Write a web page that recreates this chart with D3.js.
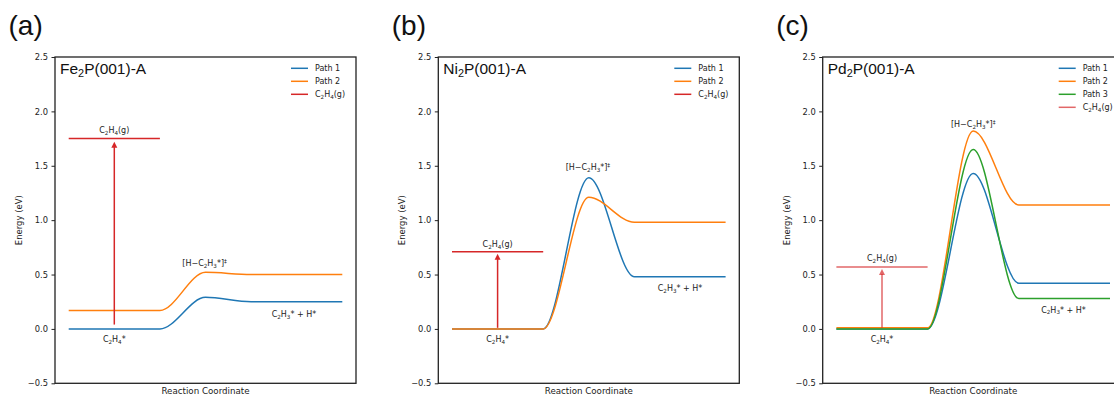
<!DOCTYPE html>
<html>
<head>
<meta charset="utf-8">
<script src="https://cdn.jsdelivr.net/npm/d3@7"></script>
<style>
  body { margin: 0; background: #fff; }
  svg { display: block; }
</style>
</head>
<body>
<div id="chart"></div>
<script>
// values
const panelLetters = ["(a)", "(b)", "(c)"];
const surfaceNames = ["Fe_2P(001)-A", "Ni_2P(001)-A", "Pd_2P(001)-A"];
const pathNames = ["Path 1", "Path 2", "Path 3"];
const pathColors = ["#1f77b4", "#ff7f0e", "#2ca02c"];
const gasName = "C_2H_4(g)";

// reaction coordinate of each state: start, end of initial plateau, TS, start of final plateau, end
const stageX = [0, 1, 1.5, 2, 3];

// [initial, transition state, final] energies in eV, per path
const energiesA = [[0.00, 0.29, 0.25], [0.17, 0.52, 0.50]];
const energiesB = [[0.00, 1.39, 0.48], [0.00, 1.21, 0.98]];
const energiesC = [[0.00, 1.43, 0.42], [0.01, 1.82, 1.14], [0.00, 1.65, 0.28]];
const energies = [energiesA, energiesB, energiesC];

const gasLevels = [1.75, 0.71, 0.57];
const gasSpan = [0, 1];
const arrowX = [0.5, 0.5, 0.5];
const arrowFrom = [0.04, 0.01, 0.01];
const arrowTo = [1.72, 0.69, 0.55];
const gasAlpha = [1, 1, 0.7];

// label anchors (reaction coordinate, energy)
const gasLabelPos = [[0.5, 1.80], [0.5, 0.755], [0.5, 0.62]];
const adsLabelPos = [[0.5, -0.12], [0.5, -0.12], [0.5, -0.12]];
const tsLabelPos = [[1.49, 0.58], [1.49, 1.46], [1.5, 1.857]];
const prodLabelPos = [[2.47, 0.11], [2.5, 0.345], [2.49, 0.15]];

const yTicks = [-0.5, 0.0, 0.5, 1.0, 1.5, 2.0, 2.5];

const W = 1114, H = 395;
const panelLeft = [55, 438.3, 822.7];
const plotW = 301, plotTop = 57, plotBottom = 383.3;

const svg = d3.select("#chart").append("svg")
  .attr("width", W).attr("height", H);

const tickFont = "'DejaVu Sans', sans-serif";
const titleFont = "'Liberation Sans', Arial, sans-serif";

// write "C_2H_4" style text with sub/superscripts as tspans
function richText(sel, str, size) {
  const re = /([_^])(.)/g;
  let last = 0, m;
  const parts = [];
  while ((m = re.exec(str)) !== null) {
    if (m.index > last) parts.push({t: str.slice(last, m.index), k: ""});
    parts.push({t: m[2], k: m[1]});
    last = re.lastIndex;
  }
  if (last < str.length) parts.push({t: str.slice(last), k: ""});
  let shift = 0;
  parts.forEach(p => {
    let target = p.k === "_" ? size * 0.22 : p.k === "^" ? -size * 0.35 : 0;
    sel.append("tspan")
      .attr("dy", target - shift)
      .attr("font-size", p.k ? size * 0.7 : size)
      .text(p.t);
    shift = target;
  });
}

const y = d3.scaleLinear().domain([-0.5, 2.5]).range([plotBottom, plotTop]);

panelLetters.forEach((letter, i) => {
  const left = panelLeft[i];
  const x = d3.scaleLinear().domain([0, 3]).range([left + 13.7, left + plotW - 13.7]);
  const g = svg.append("g");

  // paths
  energies[i].forEach((e, j) => {
    const pts = [[stageX[0], e[0]], [stageX[1], e[0]], [stageX[2], e[1]], [stageX[3], e[2]], [stageX[4], e[2]]];
    g.append("path")
      .attr("d", d3.line().x(d => x(d[0])).y(d => y(d[1])).curve(d3.curveMonotoneX)(pts))
      .attr("fill", "none")
      .attr("stroke", pathColors[j])
      .attr("stroke-width", 1.5);
  });

  // gas-phase level + arrow
  const red = "#d62728";
  g.append("line")
    .attr("x1", x(gasSpan[0])).attr("x2", x(gasSpan[1]))
    .attr("y1", y(gasLevels[i])).attr("y2", y(gasLevels[i]))
    .attr("stroke", red).attr("stroke-opacity", gasAlpha[i]).attr("stroke-width", 1.5);
  const ax = x(arrowX[i]), ay0 = y(arrowFrom[i]), ay1 = y(arrowTo[i]);
  g.append("line")
    .attr("x1", ax).attr("x2", ax).attr("y1", ay0).attr("y2", ay1 + 5)
    .attr("stroke", red).attr("stroke-opacity", gasAlpha[i]).attr("stroke-width", 1.5);
  g.append("path")
    .attr("d", `M${ax},${ay1} L${ax - 3},${ay1 + 6} L${ax + 3},${ay1 + 6} Z`)
    .attr("fill", red).attr("fill-opacity", gasAlpha[i]);

  // state labels
  const labels = [
    [gasLabelPos[i], gasName],
    [adsLabelPos[i], "C_2H_4*"],
    [tsLabelPos[i], "[H\u2212C_2H_3*]^\u2021"],
    [prodLabelPos[i], "C_2H_3* + H*"]
  ];
  labels.forEach(([p, s]) => {
    const t = g.append("text")
      .attr("x", x(p[0])).attr("y", y(p[1]))
      .attr("text-anchor", "middle")
      .attr("font-family", tickFont).attr("font-size", 8)
      .attr("fill", "#222");
    richText(t, s, 8);
  });

  // y axis
  const axis = g.append("g")
    .attr("transform", `translate(${left},0)`)
    .call(d3.axisLeft(y).tickValues(yTicks).tickFormat(d3.format(".1f")).tickSize(3.5).tickPadding(3.5));
  axis.select(".domain").remove();
  axis.selectAll("line").attr("stroke", "#222");
  axis.selectAll("text").attr("font-family", tickFont).attr("font-size", 8.3).attr("fill", "#222");

  // frame
  g.append("rect")
    .attr("x", left).attr("y", plotTop)
    .attr("width", plotW).attr("height", plotBottom - plotTop)
    .attr("fill", "none").attr("stroke", "#222").attr("stroke-width", 1.3);

  // axis titles
  g.append("text")
    .attr("transform", `translate(${left - 33},${(plotTop + plotBottom) / 2}) rotate(-90)`)
    .attr("text-anchor", "middle")
    .attr("font-family", tickFont).attr("font-size", 8.5).attr("fill", "#222")
    .text("Energy (eV)");
  g.append("text")
    .attr("x", left + plotW / 2).attr("y", plotBottom + 10.2)
    .attr("text-anchor", "middle")
    .attr("font-family", tickFont).attr("font-size", 8.7).attr("fill", "#222")
    .text("Reaction Coordinate");

  // surface name
  const tt = g.append("text")
    .attr("x", left + 5).attr("y", 74)
    .attr("font-family", titleFont).attr("font-size", 15.5).attr("fill", "#111");
  richText(tt, surfaceNames[i], 15.5);

  // legend
  const items = energies[i].map((e, j) => ({name: pathNames[j], color: pathColors[j], a: 1}))
    .concat([{name: gasName, color: red, a: gasAlpha[i]}]);
  items.forEach((it, k) => {
    const ly = 68.3 + k * 13;
    const right = left + plotW;
    g.append("line")
      .attr("x1", right - 65).attr("x2", right - 48)
      .attr("y1", ly).attr("y2", ly)
      .attr("stroke", it.color).attr("stroke-opacity", it.a).attr("stroke-width", 1.5);
    const lt = g.append("text")
      .attr("x", right - 41).attr("y", ly + 3)
      .attr("font-family", tickFont).attr("font-size", 8).attr("fill", "#222");
    richText(lt, it.name, 8);
  });

  // panel letter
  svg.append("text")
    .attr("x", left - 46.5).attr("y", 35)
    .attr("font-family", titleFont).attr("font-size", 28).attr("fill", "#111")
    .text(letter);
});
</script>
</body>
</html>
